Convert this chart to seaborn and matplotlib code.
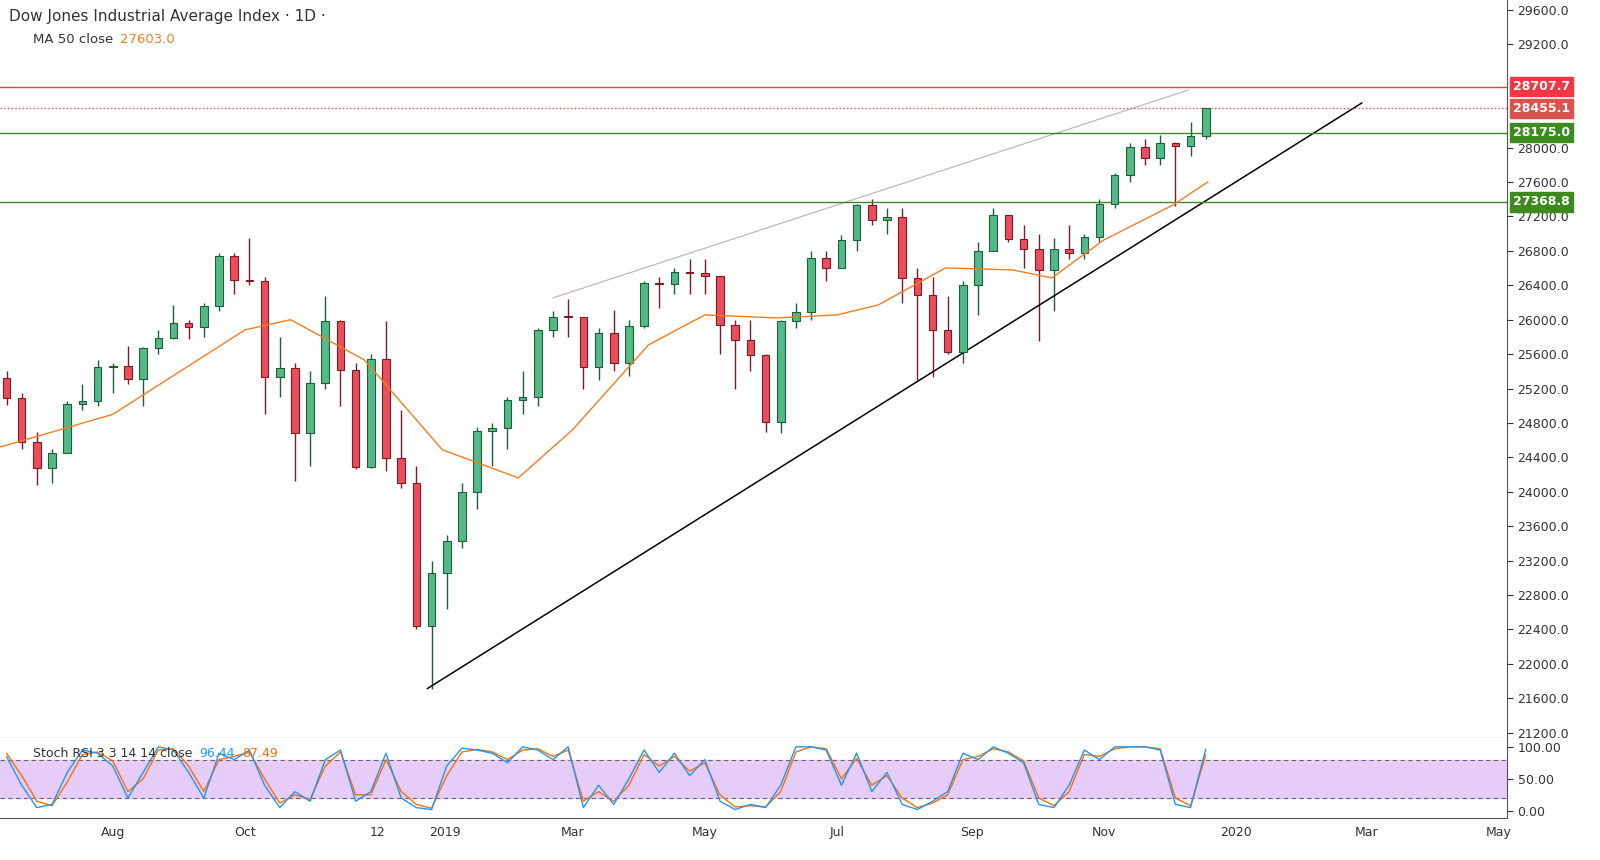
import pandas as pd
import numpy as np
import matplotlib
matplotlib.use("Agg")
import matplotlib.pyplot as plt
import matplotlib.dates as mdates
import seaborn as sns

# weekly candles (week start, open, high, low, close)
week_start = pd.date_range("2018-06-11", periods=80, freq="7D")
opens = [25320, 25090, 24580, 24271, 24456, 25019, 25058, 25451, 25463, 25313,
         25669, 25790, 25965, 25917, 26154, 26743, 26458, 26447, 25340, 25444,
         24688, 25270, 25989, 25413, 24286, 25538, 24389, 24100, 22445, 23062,
         23433, 23996, 24706, 24737, 25064, 25106, 25883, 26031, 26026, 25450,
         25849, 25502, 25929, 26425, 26412, 26559, 26543, 26505, 25942, 25764,
         25586, 24815, 25984, 26090, 26719, 26600, 26922, 27332, 27154, 27192,
         26485, 26287, 25886, 25629, 26403, 26797, 27219, 26935, 26820, 26573,
         26817, 26770, 26958, 27347, 27681, 28005, 27876, 28051, 28015, 28135]
highs = [25400, 25150, 24700, 24500, 25050, 25250, 25530, 25500, 25700, 25680,
         25880, 26170, 26000, 26200, 26770, 26770, 26950, 26500, 25800, 25500,
         25400, 26280, 26000, 25500, 25600, 25980, 24950, 24300, 23200, 23500,
         24100, 24750, 24800, 25100, 25400, 25900, 26100, 26240, 26000, 25900,
         26110, 26000, 26450, 26500, 26600, 26700, 26700, 26450, 26000, 26000,
         25600, 26000, 26200, 26800, 26800, 26980, 27350, 27400, 27300, 27300,
         26600, 26500, 26270, 26450, 26900, 27300, 27200, 27100, 27000, 26950,
         27100, 27000, 27400, 27700, 28050, 28100, 28150, 28070, 28300, 28460]
lows = [25010, 24500, 24080, 24100, 24450, 24950, 25000, 25150, 25250, 25000,
        25600, 25780, 25780, 25800, 26100, 26300, 26400, 24900, 25100, 24120,
        24300, 25200, 25000, 24270, 24280, 24240, 24050, 22400, 21712, 22640,
        23350, 23800, 24300, 24500, 24900, 25000, 25800, 25800, 25200, 25300,
        25400, 25350, 25900, 26140, 26300, 26300, 26300, 25600, 25200, 25400,
        24700, 24680, 25900, 26000, 26450, 26600, 26800, 27100, 27000, 26200,
        25300, 25340, 25600, 25500, 26050, 26800, 26900, 26600, 25750, 26100,
        26700, 26700, 26900, 27300, 27600, 27800, 27800, 27320, 27900, 28100]
closes = [25090, 24580, 24271, 24456, 25019, 25058, 25451, 25463, 25313, 25669,
          25790, 25965, 25917, 26154, 26743, 26458, 26447, 25340, 25444, 24688,
          25270, 25989, 25413, 24286, 25538, 24389, 24100, 22445, 23062, 23433,
          23996, 24706, 24737, 25064, 25106, 25883, 26031, 26026, 25450, 25849,
          25502, 25929, 26425, 26412, 26559, 26543, 26505, 25942, 25764, 25586,
          24815, 25984, 26090, 26719, 26600, 26922, 27332, 27154, 27192, 26485,
          26287, 25886, 25629, 26403, 26797, 27219, 26935, 26820, 26573, 26817,
          26770, 26958, 27347, 27681, 28005, 27876, 28051, 28015, 28135, 28455]

# MA 50
ma_dates = pd.to_datetime(["2018-06-10", "2018-08-01", "2018-10-01", "2018-10-22", "2018-11-25",
                           "2018-12-31", "2019-02-04", "2019-03-01", "2019-04-05", "2019-05-01",
                           "2019-06-03", "2019-07-01", "2019-07-20", "2019-08-20", "2019-09-20",
                           "2019-10-08", "2019-11-01", "2019-12-03", "2019-12-19"])
ma_vals = [24520, 24900, 25882, 26000, 25533, 24488, 24162, 24720, 25707, 26056,
           26021, 26056, 26172, 26602, 26579, 26486, 26927, 27334, 27603]

# Stoch RSI %K and %D (weekly sampled)
stoch_k = [85, 40, 5, 10, 60, 95, 90, 70, 20, 60, 100, 95, 60, 20, 90, 80, 95, 40, 5, 30,
           15, 80, 95, 15, 30, 90, 20, 5, 2, 70, 98, 95, 90, 75, 100, 95, 80, 100, 5, 40,
           10, 50, 95, 60, 90, 55, 80, 15, 2, 10, 5, 40, 100, 100, 95, 40, 90, 30, 60, 10,
           2, 15, 30, 90, 80, 100, 90, 75, 10, 5, 40, 95, 80, 100, 100, 100, 95, 10, 5, 96.44]
stoch_d = [90, 55, 15, 8, 45, 88, 92, 78, 30, 50, 95, 97, 70, 30, 80, 85, 92, 50, 12, 25,
           18, 70, 92, 25, 25, 80, 30, 10, 4, 55, 92, 96, 92, 80, 95, 97, 85, 95, 15, 30,
           15, 40, 88, 70, 85, 62, 75, 25, 6, 8, 6, 30, 92, 100, 97, 50, 82, 40, 55, 20,
           5, 12, 25, 80, 85, 97, 92, 78, 20, 8, 30, 88, 85, 97, 100, 100, 97, 20, 8, 87.49]

levels = [(28707.7, "#f23645", "-"), (28455.1, "#d9534f", ":"), (28175.0, "#3d8a1f", "-"), (27368.8, "#3d8a1f", "-")]
trend_dates = pd.to_datetime(["2018-12-24", "2020-02-28"])
trend_vals = [21712, 28520]
top_dates = pd.to_datetime(["2019-02-20", "2019-12-10"])
top_vals = [26254, 28670]

sns.set_style("white")
plt.rcParams["font.family"] = ["DejaVu Sans"]

fig = plt.figure(figsize=(16, 8.6), dpi=100)
ax = fig.add_axes([0.0, 0.142, 0.942, 0.858])
ax2 = fig.add_axes([0.0, 0.049, 0.942, 0.093], sharex=ax)

df = pd.DataFrame({"date": week_start + pd.Timedelta(days=2), "o": opens, "h": highs, "l": lows, "c": closes})
x = mdates.date2num(df["date"])
up = df["c"] >= df["o"]
body_col = np.where(up, "#53b987", "#eb4d5c")
edge_col = np.where(up, "#1e5e3b", "#7a1c24")
ax.vlines(x, df["l"], df["h"], color=edge_col, lw=1, zorder=2)
ax.bar(x, (df["c"] - df["o"]).abs().clip(lower=15), bottom=np.minimum(df["o"], df["c"]),
       width=3.5, color=body_col, edgecolor=edge_col, lw=0.8, zorder=3)

sns.lineplot(x=ma_dates, y=ma_vals, ax=ax, color="#f57c1f", lw=1, zorder=4)
sns.lineplot(x=trend_dates, y=trend_vals, ax=ax, color="black", lw=1.1)
sns.lineplot(x=top_dates, y=top_vals, ax=ax, color="#bbbbbb", lw=0.9)

for val, col, ls in levels:
    ax.axhline(val, color=col, ls=ls, lw=1)
    ax.annotate(f"{val:.1f}", xy=(1.0, val), xycoords=("axes fraction", "data"),
                xytext=(4, 0), textcoords="offset points", ha="left", va="center",
                fontsize=9, fontweight="bold", color="white", zorder=10,
                bbox=dict(boxstyle="square,pad=0.25", fc=col, ec=col), annotation_clip=False)

ax.set_ylim(21140, 29716)
ax.set_xlim(pd.Timestamp("2018-06-10"), pd.Timestamp("2020-05-05"))
ax.yaxis.tick_right()
yt = [v for v in range(21200, 29601, 400) if v not in (28400, 28800)]
ax.set_yticks(yt)
ax.yaxis.set_major_formatter(matplotlib.ticker.FuncFormatter(lambda v, p: f"{v:.1f}"))
ax.tick_params(axis="y", labelsize=9, colors="#333333", length=4)
ax.tick_params(axis="x", labelbottom=False, length=0)
for s in ["top", "left"]:
    ax.spines[s].set_visible(False)
ax.spines["right"].set_color("#555555")
ax.spines["bottom"].set_color("#555555")
ax.set_xlabel("")
ax.text(0.006, 0.978, "Dow Jones Industrial Average Index · 1D ·", transform=ax.transAxes,
        fontsize=11, color="#333333", va="center")
t_ma = ax.text(0.022, 0.946, "MA 50 close", transform=ax.transAxes, fontsize=9.5, color="#333333", va="center")
ax.annotate("27603.0", xy=(1, 0.5), xycoords=t_ma, xytext=(5, 0), textcoords="offset points",
            fontsize=9.5, color="#f57c1f", va="center")

# Stoch RSI panel
sdf = pd.DataFrame({"date": df["date"], "k": stoch_k, "d": stoch_d})
ax2.axhspan(20, 80, color="#e6ccf9", zorder=0)
ax2.axhline(80, color="#666666", ls=(0, (4, 3)), lw=0.8)
ax2.axhline(20, color="#666666", ls=(0, (4, 3)), lw=0.8)
sns.lineplot(data=sdf, x="date", y="d", ax=ax2, color="#ff6d00", lw=1)
sns.lineplot(data=sdf, x="date", y="k", ax=ax2, color="#2196f3", lw=1)
ax2.set_ylim(-11, 114)
ax2.yaxis.tick_right()
ax2.set_yticks([0, 50, 100])
ax2.set_yticklabels(["0.00", "50.00", "100.00"])
ax2.tick_params(axis="y", labelsize=9, colors="#333333", length=4)
ax2.set_ylabel("")
ax2.set_xlabel("")
for s in ["top", "left"]:
    ax2.spines[s].set_visible(False)
ax2.spines["right"].set_color("#555555")
ax2.spines["bottom"].set_color("#555555")
t1 = ax2.text(0.022, 0.8, "Stoch RSI 3 3 14 14 close", transform=ax2.transAxes, fontsize=9, color="#333333", va="center")
t2 = ax2.annotate("96.44", xy=(1, 0.5), xycoords=t1, xytext=(5, 0), textcoords="offset points",
                  fontsize=9, color="#2196f3", va="center")
ax2.annotate("87.49", xy=(1, 0.5), xycoords=t2, xytext=(5, 0), textcoords="offset points",
             fontsize=9, color="#ff6d00", va="center")

tick_dates = pd.to_datetime(["2018-08-01", "2018-10-01", "2018-12-01", "2019-01-01", "2019-03-01",
                             "2019-05-01", "2019-07-01", "2019-09-01", "2019-11-01", "2020-01-01",
                             "2020-03-01", "2020-05-01"])
tick_labels = ["Aug", "Oct", "12", "2019", "Mar", "May", "Jul", "Sep", "Nov", "2020", "Mar", "May"]
ax2.set_xticks(tick_dates)
ax2.set_xticklabels(tick_labels, fontsize=9, color="#333333")
ax2.tick_params(axis="x", length=0, pad=6)

fig.savefig("out.png", dpi=100)
